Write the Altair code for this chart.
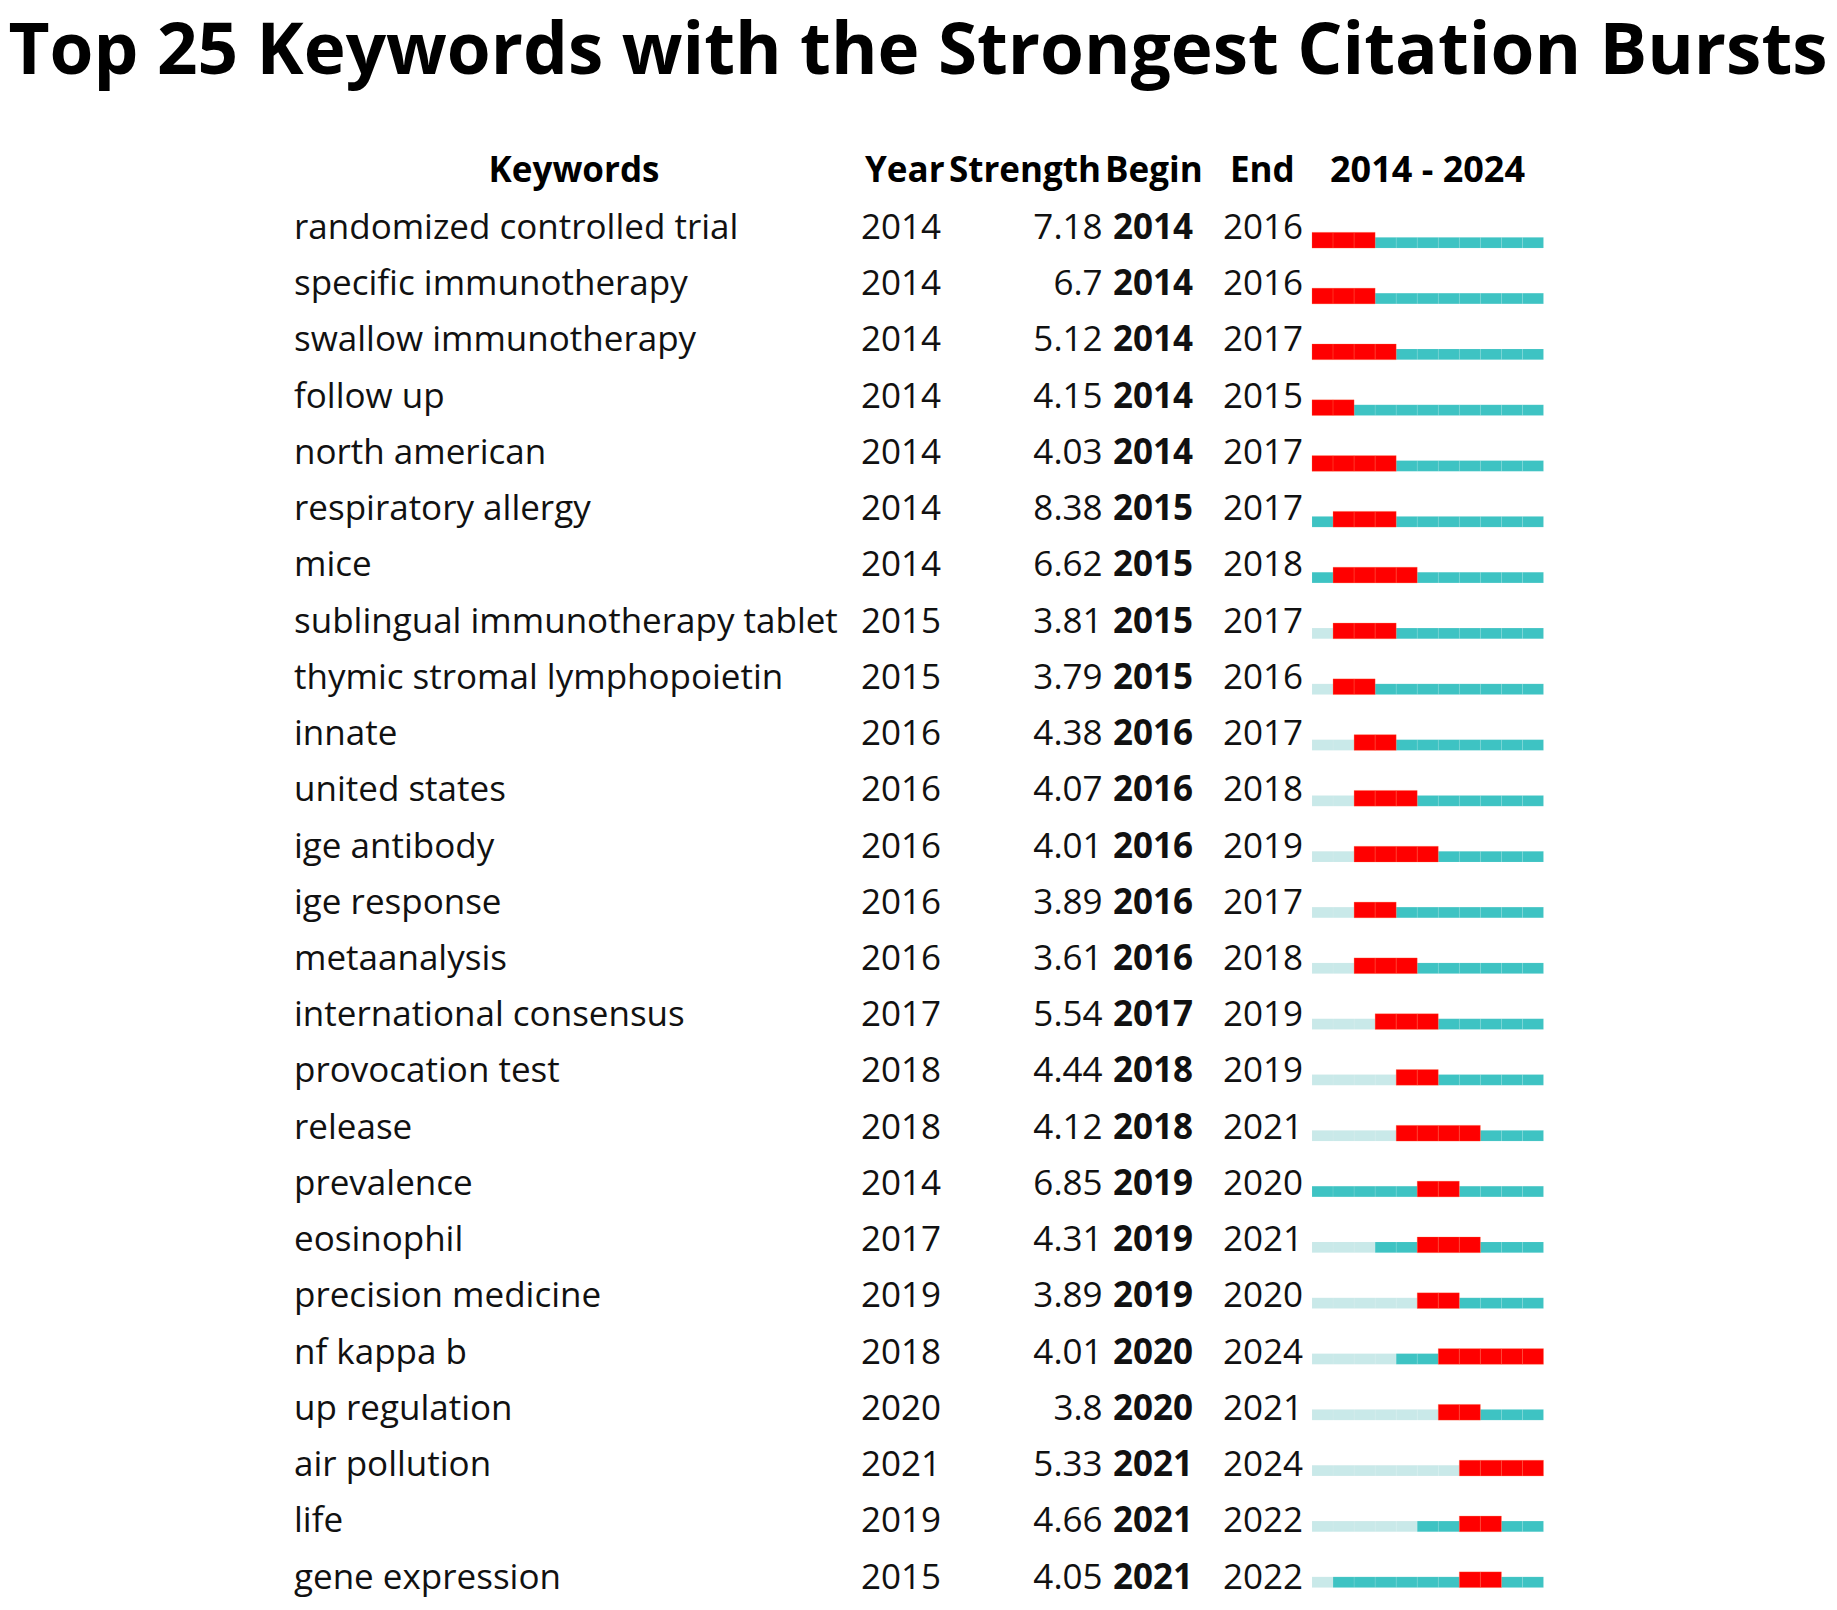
import altair as alt
import pandas as pd

TITLE = "Top 25 Keywords with the Strongest Citation Bursts"
HEADERS = ["Keywords", "Year", "Strength", "Begin", "End", "2014 - 2024"]

keywords = [
    "randomized controlled trial", "specific immunotherapy", "swallow immunotherapy",
    "follow up", "north american", "respiratory allergy", "mice",
    "sublingual immunotherapy tablet", "thymic stromal lymphopoietin", "innate",
    "united states", "ige antibody", "ige response", "metaanalysis",
    "international consensus", "provocation test", "release", "prevalence",
    "eosinophil", "precision medicine", "nf kappa b", "up regulation",
    "air pollution", "life", "gene expression",
]
years = [2014, 2014, 2014, 2014, 2014, 2014, 2014, 2015, 2015, 2016, 2016, 2016, 2016,
         2016, 2017, 2018, 2018, 2014, 2017, 2019, 2018, 2020, 2021, 2019, 2015]
strengths = ["7.18", "6.7", "5.12", "4.15", "4.03", "8.38", "6.62", "3.81", "3.79", "4.38",
             "4.07", "4.01", "3.89", "3.61", "5.54", "4.44", "4.12", "6.85", "4.31", "3.89",
             "4.01", "3.8", "5.33", "4.66", "4.05"]
begins = [2014, 2014, 2014, 2014, 2014, 2015, 2015, 2015, 2015, 2016, 2016, 2016, 2016,
          2016, 2017, 2018, 2018, 2019, 2019, 2019, 2020, 2020, 2021, 2021, 2021]
ends = [2016, 2016, 2017, 2015, 2017, 2017, 2018, 2017, 2016, 2017, 2018, 2019, 2017,
        2018, 2019, 2019, 2021, 2020, 2021, 2020, 2024, 2021, 2024, 2022, 2022]
span_years = list(range(2014, 2025))

rows = pd.DataFrame({
    "rank": list(range(len(keywords))),
    "keyword": keywords,
    "year": [str(y) for y in years],
    "strength": strengths,
    "begin": [str(b) for b in begins],
    "end": [str(e) for e in ends],
})

cells = []
for i, (kw, y0, b, e) in enumerate(zip(keywords, years, begins, ends)):
    for y in span_years:
        if b <= y <= e:
            st = "burst"
        elif y >= y0:
            st = "active"
        else:
            st = "before"
        cells.append({"rank": i, "keyword": kw, "yr": y, "yr_end": y + 1, "state": st})
cells = pd.DataFrame(cells)

W, H = 1821, 1594
FONT = "Open Sans"
FS = 35
HFS = 35
ROW0 = 231.0
STEP = 56.23
N = len(keywords) - 1

text_scale = alt.Scale(domain=[0, N], range=[ROW0, ROW0 + N * STEP])
teal_scale = alt.Scale(domain=[0, N], range=[ROW0 - 1.3, ROW0 - 1.3 + N * STEP])
red_scale = alt.Scale(domain=[0, N], range=[ROW0 - 3.8, ROW0 - 3.8 + N * STEP])
x_scale = alt.Scale(domain=[2014, 2025], range=[1304, 1535.5], zero=False, nice=False)


def col_text(field, x, align, bold=False):
    return alt.Chart(rows).mark_text(
        align=align, baseline="alphabetic", font=FONT, fontSize=FS,
        fontWeight="bold" if bold else "normal", color="#111111",
    ).encode(
        x=alt.value(x),
        y=alt.Y("rank:Q", scale=text_scale, axis=None),
        text=f"{field}:N",
    )


def label(txt, x, y, align, size, bold=True):
    return alt.Chart(pd.DataFrame({"t": [txt]})).mark_text(
        align=align, baseline="alphabetic", font=FONT, fontSize=size,
        fontWeight="bold" if bold else "normal", color="#000000",
    ).encode(x=alt.value(x), y=alt.value(y), text="t:N")


base_bars = alt.Chart(cells).transform_filter(
    alt.datum.state != "burst"
).mark_bar(
    size=10.7, orient="horizontal", stroke="white", strokeOpacity=0.08, strokeWidth=1
).encode(
    x=alt.X("yr:Q", scale=x_scale, axis=None),
    x2="yr_end:Q",
    y=alt.Y("rank:Q", scale=teal_scale, axis=None),
    color=alt.Color("state:N", scale=alt.Scale(domain=["before", "active"],
                                               range=["#C9E9E9", "#3EC3C3"]), legend=None),
)

burst_bars = alt.Chart(cells).transform_filter(
    alt.datum.state == "burst"
).mark_bar(
    size=15.7, orient="horizontal", color="#FF0000", stroke="#FF7040",
    strokeOpacity=0.25, strokeWidth=1
).encode(
    x=alt.X("yr:Q", scale=x_scale, axis=None),
    x2="yr_end:Q",
    y=alt.Y("rank:Q", scale=red_scale, axis=None),
)

hy = 174
chart = alt.layer(
    label(TITLE, 910, 66, "center", 71),
    label(HEADERS[0], 566, hy, "center", HFS),
    label(HEADERS[1], 857, hy, "left", HFS),
    label(HEADERS[2], 1093, hy, "right", HFS),
    label(HEADERS[3], 1097, hy, "left", HFS),
    label(HEADERS[4], 1222, hy, "left", HFS),
    label(HEADERS[5], 1419.5, hy, "center", 36),
    col_text("keyword", 286, "left"),
    col_text("year", 853, "left"),
    col_text("strength", 1094.6, "right"),
    col_text("begin", 1105, "left", bold=True),
    col_text("end", 1215, "left"),
    base_bars,
    burst_bars,
).resolve_scale(
    y="independent"
).properties(
    width=W, height=H, padding=0, autosize=alt.AutoSizeParams(type="none")
).configure_view(stroke=None)

chart.save("out.html", embed_options={"renderer": "svg", "actions": False})
